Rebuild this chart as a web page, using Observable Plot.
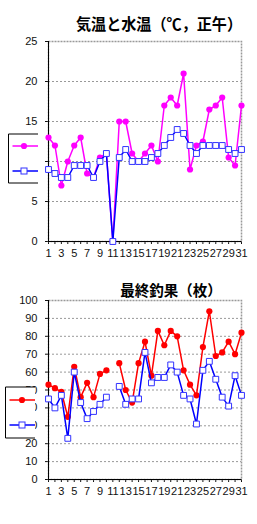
<!DOCTYPE html>
<html><head><meta charset="utf-8">
<script src="https://cdn.jsdelivr.net/npm/d3@7"></script>
<script src="https://cdn.jsdelivr.net/npm/@observablehq/plot@0.6"></script>
<style>
body{margin:0;background:#fff}
#wrap{position:relative;width:257px;height:524px;overflow:hidden;background:#fff}
#wrap > svg{position:absolute;left:0}
</style></head><body><div id="wrap"></div>
<script>
const days = [1,2,3,4,5,6,7,8,9,10,11,12,13,14,15,16,17,18,19,20,21,22,23,24,25,26,27,28,29,30,31];
const airTemp   = [13,12,7,10,12,13,8.5,8,10.5,11,0,15,15,11,10,11,12,10,17,18,17,21,9,12,12.5,16.5,17,18,10.5,9.5,17];
const waterTemp = [9,8.5,8,8,9.5,9.5,9.5,8,10,11,0,10.5,11.5,10,10,10,10.5,11,12,13,14,13.5,12,11,12,12,12,12,11.5,11,11.5];
const catchRed  = [53,51,49,35,63,46,54,46,59,61,null,65,50,43,65,77,58,83,75,83,80,61,53,47,74,94,69,71,77,70,82];
const catchBlue = [45,40,47,23,60,43,34,38,42,46,null,52,42,45,45,71,54,57,57,64,60,47,45,31,61,66,56,46,41,58,47];
const tempTicks = [0,5,10,15,20,25];
const catchTicks = [0,10,20,30,40,50,60,70,80,90,100];
const topTitle = "気温と水温（℃，正午）";
const bottomTitle = "最終釣果（枚）";

const wrap = document.getElementById("wrap");

function chart({s1, s2, c1, yTicks, height, mt, mb, top}) {
  const rows1 = days.map((d, i) => ({day: d, v: s1[i]}));
  const rows2 = days.map((d, i) => ({day: d, v: s2[i]}));
  const yMax = yTicks[yTicks.length - 1];
  const svg = Plot.plot({
    width: 257, height,
    marginLeft: 48, marginRight: 16, marginTop: mt, marginBottom: mb,
    style: {fontSize: "11px", fontFamily: "'Liberation Sans', Arial, sans-serif", background: "transparent", color: "#111"},
    x: {domain: [1, 31], ticks: days, tickFormat: d => d % 2 ? String(d) : "", tickSize: 3, tickPadding: 5, label: null},
    y: {domain: [0, yMax], ticks: yTicks, tickSize: 3, tickPadding: 8, label: null},
    marks: [
      Plot.frame({stroke: "#999", strokeWidth: 1.5, strokeDasharray: "2,1"}),
      Plot.ruleY(yTicks.filter(t => t > 0 && t < yMax), {stroke: "#999", strokeDasharray: "2,2"}),
      Plot.ruleX([1], {stroke: "#000"}),
      Plot.ruleY([0], {stroke: "#000"}),
      Plot.line(rows1, {x: "day", y: "v", stroke: c1, strokeWidth: 1.5}),
      Plot.dot(rows1, {x: "day", y: "v", fill: c1, r: 3.1}),
      Plot.line(rows2, {x: "day", y: "v", stroke: "#0000ff", strokeWidth: 1.5}),
      Plot.dot(rows2, {x: "day", y: "v", symbol: "square", r: 3.3, fill: "white", stroke: "#3333ff", strokeWidth: 1})
    ]
  });
  svg.style.top = top + "px";
  wrap.appendChild(svg);
}

chart({s1: airTemp, s2: waterTemp, c1: "#ff00ff", yTicks: tempTicks, height: 262, mt: 41, mb: 21, top: 0});
chart({s1: catchRed, s2: catchBlue, c1: "#ff0000", yTicks: catchTicks, height: 262, mt: 38, mb: 45, top: 262});

// overlay: titles and legends
const ov = d3.select(wrap).append("svg")
  .attr("width", 257).attr("height", 524)
  .style("top", "0px").style("pointer-events", "none");

const titleFont = "'Noto Sans CJK JP', sans-serif";
ov.append("text").attr("x", 76).attr("y", 30).attr("text-anchor", "start")
  .attr("font-family", titleFont).attr("font-weight", "bold").attr("font-size", 16)
  .attr("textLength", 166).attr("lengthAdjust", "spacingAndGlyphs")
  .text(topTitle);
ov.append("text").attr("x", 171).attr("y", 296).attr("text-anchor", "middle")
  .attr("font-family", titleFont).attr("font-weight", "bold").attr("font-size", 14.5)
  .text(bottomTitle);

function legend(x0, x1, y0, y1, c1, ya, yb, mx) {
  const g = ov.append("g");
  g.append("rect").attr("x", x0).attr("y", y0).attr("width", x1 - x0).attr("height", y1 - y0).attr("fill", "white");
  g.append("path").attr("d", `M${x1},${y0}H${x0}V${y1}H${x1}`).attr("fill", "none").attr("stroke", "#000");
  g.append("line").attr("x1", x0 + 4).attr("x2", x1).attr("y1", ya).attr("y2", ya).attr("stroke", c1).attr("stroke-width", 1.5);
  g.append("circle").attr("cx", mx).attr("cy", ya).attr("r", 3.1).attr("fill", c1);
  g.append("line").attr("x1", x0 + 4).attr("x2", x1).attr("y1", yb).attr("y2", yb).attr("stroke", "#0000ff").attr("stroke-width", 1.5);
  g.append("rect").attr("x", mx - 3).attr("y", yb - 3).attr("width", 6).attr("height", 6).attr("fill", "white").attr("stroke", "#3333ff");
}
legend(8.5, 38, 134, 183, "#ff00ff", 146, 171, 24);
legend(5.5, 35, 387, 438, "#ff0000", 400, 425, 22);
</script></body></html>
